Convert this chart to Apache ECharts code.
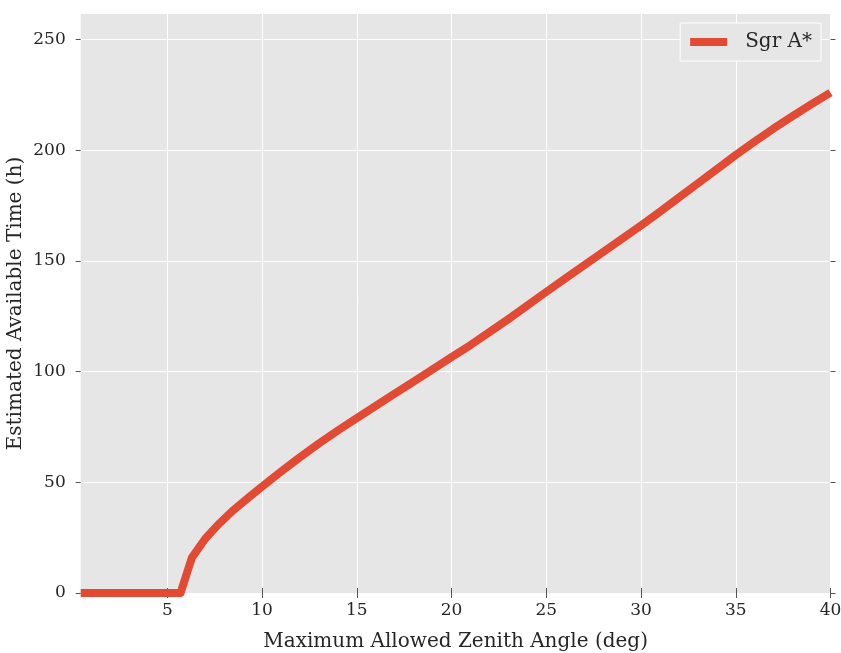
<!DOCTYPE html>
<html>
<head>
<meta charset="utf-8">
<script src="https://cdn.jsdelivr.net/npm/echarts@6/dist/echarts.min.js"></script>
<style>
html,body{margin:0;padding:0;background:#fff;}
#chart{width:841px;height:653px;}
</style>
</head>
<body>
<div id="chart"></div>
<script>
// Data
const seriesName = 'Sgr A*';
const zenithAngles = [0.43, 5.7, 6.3, 7.0, 7.7, 8.5, 9.3, 10, 11, 12, 13, 14, 15, 16, 17, 18, 19, 20, 21, 22, 23, 24, 25, 26, 27, 28, 29, 30, 31, 32, 33, 34, 35, 36, 37, 38, 39, 40];
const availableHours = [0, 0, 16, 24.5, 31, 37.5, 43.2, 48, 54.8, 61.3, 67.5, 73.4, 79, 84.5, 90, 95.5, 101, 106.5, 112, 117.8, 123.7, 129.8, 136, 142, 148, 154, 160, 166, 172.2, 178.6, 185, 191.4, 197.8, 203.9, 209.8, 215.4, 220.8, 226];
const xTicks = [5, 10, 15, 20, 25, 30, 35, 40];
const yTicks = [0, 50, 100, 150, 200, 250];
const xRange = [0.43, 40];
const yRange = [0, 261.5];

const FONT = 'DejaVu Serif';
const chart = echarts.init(document.getElementById('chart'), null, {renderer: 'canvas'});
const seriesData = zenithAngles.map((x, i) => [x, availableHours[i]]);

const tickStyle = {color: '#555555', width: 1};
const baseX = {
  type: 'value', min: xRange[0], max: xRange[1],
  axisLine: {show: false},
  axisTick: {show: true, inside: false, length: 5, lineStyle: tickStyle, customValues: xTicks},
};
const baseY = {
  type: 'value', min: yRange[0], max: yRange[1],
  axisLine: {show: false},
  axisTick: {show: true, inside: false, length: 5, lineStyle: tickStyle, customValues: yTicks},
};

chart.setOption({
  animation: false,
  backgroundColor: '#ffffff',
  grid: {left: 80.7, right: 10.5, top: 14, bottom: 60, show: true, backgroundColor: '#E6E6E6', borderWidth: 0, containLabel: false, outerBoundsMode: 'none'},
  legend: {
    right: 20, top: 23,
    data: [{name: seriesName, icon: 'rect'}],
    itemWidth: 37, itemHeight: 8,
    padding: [9, 9, 9, 10],
    backgroundColor: '#E6E6E6', borderColor: '#ffffff', borderWidth: 1,
    textStyle: {fontFamily: FONT, fontSize: 20, color: '#262626', padding: [0, 0, 0, 13]}
  },
  xAxis: [
    Object.assign({}, baseX, {
      position: 'bottom',
      name: 'Maximum Allowed Zenith Angle (deg)', nameLocation: 'middle', nameGap: 39, nameMoveOverlap: false,
      nameTextStyle: {fontFamily: FONT, fontSize: 20, color: '#262626'},
      axisLabel: {show: true, customValues: xTicks, margin: 9, fontFamily: FONT, fontSize: 17, color: '#262626'},
      splitLine: {show: true, lineStyle: {color: '#ffffff', width: 1}},
    }),
    Object.assign({}, baseX, {
      position: 'top',
      axisLabel: {show: false},
      splitLine: {show: false},
    })
  ],
  yAxis: [
    Object.assign({}, baseY, {
      position: 'left',
      name: 'Estimated Available Time (h)', nameLocation: 'middle', nameGap: 55, nameMoveOverlap: false,
      nameTextStyle: {fontFamily: FONT, fontSize: 20, color: '#262626'},
      axisLabel: {show: true, customValues: yTicks, margin: 15, fontFamily: FONT, fontSize: 17, color: '#262626'},
      splitLine: {show: true, lineStyle: {color: '#ffffff', width: 1}},
    }),
    Object.assign({}, baseY, {
      position: 'right',
      axisLabel: {show: false},
      splitLine: {show: false},
    })
  ],
  series: [{
    name: seriesName,
    type: 'line',
    xAxisIndex: 0, yAxisIndex: 0,
    data: seriesData,
    showSymbol: false, symbol: 'none',
    clip: true,
    color: '#E24A33',
    lineStyle: {color: '#E24A33', width: 8, join: 'round', cap: 'butt'}
  }]
});
</script>
</body>
</html>
